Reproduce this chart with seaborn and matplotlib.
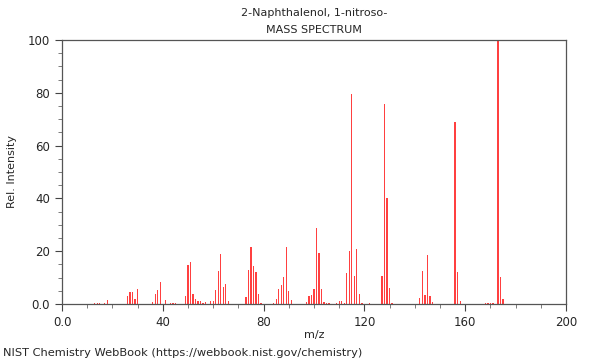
import numpy as np
import pandas as pd
import seaborn as sns
import matplotlib.pyplot as plt
from matplotlib.ticker import MultipleLocator, FixedFormatter, FixedLocator

# peak list (m/z, relative intensity)
mz = [13, 14, 15, 17, 18, 26, 27, 28, 29, 30, 36, 37, 38, 39, 41, 43, 44, 45,
      49, 50, 51, 52, 53, 54, 55, 56, 57, 59, 60, 61, 62, 63, 64, 65, 66,
      73, 74, 75, 76, 77, 78, 79, 84, 85, 86, 87, 88, 89, 90, 91,
      97, 98, 99, 100, 101, 102, 103, 104, 105, 106,
      109, 110, 111, 112, 113, 114, 115, 116, 117, 118, 119, 122,
      127, 128, 129, 130, 131, 142, 143, 144, 145, 146, 147,
      156, 157, 158, 168, 169, 170, 171, 173, 174, 175]
intensity = [0.5, 0.5, 0.5, 0.5, 1.5, 3.0, 4.5, 4.7, 1.8, 5.6, 0.7, 3.8, 5.2, 8.2, 1.5, 0.5, 0.5, 0.5,
             3.0, 14.8, 15.9, 3.8, 1.9, 1.0, 1.0, 0.5, 0.8, 1.1, 1.1, 5.2, 12.5, 18.9, 6.3, 7.7, 1.0,
             2.7, 12.9, 21.6, 14.4, 12.2, 3.9, 0.5, 0.5, 1.9, 5.6, 7.3, 10.1, 21.5, 4.8, 1.5,
             0.7, 3.0, 3.4, 5.6, 28.8, 19.3, 5.8, 0.8, 0.5, 0.5,
             0.5, 1.3, 1.0, 0.5, 11.9, 20.0, 79.5, 10.6, 20.7, 3.8, 0.5, 0.5,
             10.6, 75.8, 40.0, 6.2, 0.5, 2.3, 12.6, 3.4, 18.4, 3.0, 0.8,
             69.0, 12.0, 1.0, 0.5, 0.5, 0.5, 0.5, 100.0, 10.2, 1.8]

df = pd.DataFrame({'mz': mz, 'intensity': intensity})

sns.set_style('ticks')
plt.rcParams['font.family'] = ['DejaVu Sans']

fig = plt.figure(figsize=(6, 3.6), dpi=100)
ax = fig.add_axes([62 / 600, 1 - 304 / 360, 504 / 600, 264 / 360])

sns.histplot(data=df, x='mz', weights='intensity', discrete=True, shrink=0.5,
             color='#ff0000', alpha=0.75, linewidth=0, ax=ax)

ax.set_xlim(0, 200)
ax.set_ylim(0, 100)
ax.xaxis.set_major_locator(FixedLocator([0, 40, 80, 120, 160, 200]))
ax.xaxis.set_major_formatter(FixedFormatter(['0.0', '40', '80', '120', '160', '200']))
ax.xaxis.set_minor_locator(MultipleLocator(10))
ax.yaxis.set_major_locator(FixedLocator([0, 20, 40, 60, 80, 100]))
ax.yaxis.set_major_formatter(FixedFormatter(['0.0', '20', '40', '60', '80', '100']))
ax.yaxis.set_minor_locator(MultipleLocator(5))
ax.tick_params(which='major', length=5, width=0.8, labelsize=8.5, color='#444444')
ax.tick_params(which='minor', length=3, width=0.6, color='#666666')
for s in ax.spines.values():
    s.set_color('#555555')
    s.set_linewidth(0.9)

ax.set_xlabel('m/z', fontsize=8, labelpad=1)
ax.set_ylabel('Rel. Intensity', fontsize=8, labelpad=8)
fig.text(314 / 600, 1 - 13 / 360, '2-Naphthalenol, 1-nitroso-', ha='center', va='center', fontsize=8)
fig.text(314 / 600, 1 - 30 / 360, 'MASS SPECTRUM', ha='center', va='center', fontsize=8)
fig.text(3 / 600, 1 - 353 / 360, 'NIST Chemistry WebBook (https://webbook.nist.gov/chemistry)',
         ha='left', va='center', fontsize=8.2)

fig.savefig('out.png', dpi=100)
